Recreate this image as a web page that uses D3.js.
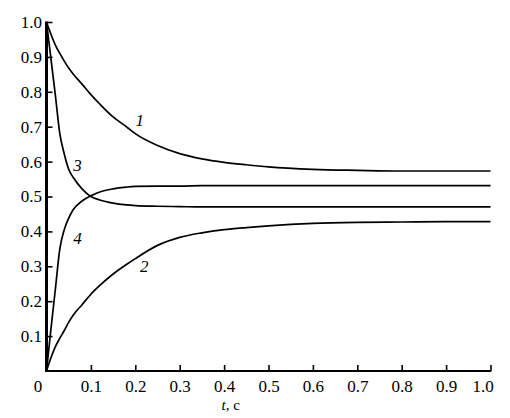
<!DOCTYPE html>
<html>
<head>
<meta charset="utf-8">
<script src="https://cdn.jsdelivr.net/npm/d3@7"></script>
<style>
  html, body { margin: 0; padding: 0; background: #fff; }
  svg { display: block; }
  svg text { font-family: 'Liberation Serif', 'Times New Roman', Times, 'DejaVu Serif', serif !important; fill: #000; }
</style>
</head>
<body>
<div id="chart"></div>
<script>
// ---- data ----
const tValues = [0, 0.01, 0.02, 0.03, 0.04, 0.05, 0.06, 0.08, 0.10, 0.12, 0.15, 0.18, 0.20, 0.25, 0.30, 0.35, 0.40, 0.45, 0.50, 0.60, 0.70, 0.80, 0.90, 1.00];
const curve1 = [1.0, 0.965, 0.934, 0.910, 0.888, 0.868, 0.851, 0.822, 0.792, 0.765, 0.728, 0.700, 0.680, 0.646, 0.623, 0.608, 0.598, 0.591, 0.585, 0.578, 0.575, 0.573, 0.573, 0.573];
const curve2 = [0, 0.038, 0.070, 0.094, 0.116, 0.140, 0.160, 0.190, 0.220, 0.245, 0.278, 0.305, 0.322, 0.360, 0.383, 0.396, 0.405, 0.411, 0.416, 0.423, 0.426, 0.427, 0.428, 0.428];
const curve3 = [1.0, 0.895, 0.790, 0.680, 0.622, 0.578, 0.555, 0.522, 0.500, 0.490, 0.481, 0.476, 0.474, 0.472, 0.471, 0.470, 0.470, 0.470, 0.470, 0.470, 0.470, 0.470, 0.470, 0.470];
const curve4 = [0, 0.120, 0.235, 0.350, 0.405, 0.438, 0.462, 0.487, 0.502, 0.513, 0.522, 0.527, 0.529, 0.530, 0.530, 0.531, 0.531, 0.531, 0.531, 0.531, 0.531, 0.531, 0.531, 0.531];
const seriesNames = ["1", "2", "3", "4"];
const seriesLabelAt = [[0.21, 0.72], [0.22, 0.30], [0.07, 0.59], [0.07, 0.38]]; // [t, value] where each number label sits
const xTicks = [0, 0.1, 0.2, 0.3, 0.4, 0.5, 0.6, 0.7, 0.8, 0.9, 1.0];
const xTickLabels = ["0", "0.1", "0.2", "0.3", "0.4", "0.5", "0.6", "0.7", "0.8", "0.9", "1.0"];
const yTicks = [0.1, 0.2, 0.3, 0.4, 0.5, 0.6, 0.7, 0.8, 0.9, 1.0];
const yTickLabels = ["0.1", "0.2", "0.3", "0.4", "0.5", "0.6", "0.7", "0.8", "0.9", "1.0"];

// ---- layout ----
const W = 510, H = 418;
const FONT = "'Liberation Serif', 'Times New Roman', Times, 'DejaVu Serif', serif";
const svg = d3.select("#chart").append("svg").attr("width", W).attr("height", H)
  .attr("font-family", FONT);

const x = d3.scaleLinear().domain([0, 1]).range([46.5, 490.5]);
const y = d3.scaleLinear().domain([0, 1]).range([371, 22]);

// axes
const xAxis = d3.axisBottom(x)
  .tickValues(xTicks)
  .tickFormat((d, i) => xTickLabels[i])
  .tickSizeInner(-6).tickSizeOuter(0).tickPadding(9);
const yAxis = d3.axisLeft(y)
  .tickValues(yTicks)
  .tickFormat((d, i) => yTickLabels[i])
  .tickSizeInner(-6).tickSizeOuter(0).tickPadding(4.5);

const gx = svg.append("g").attr("transform", `translate(0,${y(0)})`).call(xAxis);
const gy = svg.append("g").attr("transform", `translate(${x(0)},0)`).call(yAxis);

[gx, gy].forEach(g => {
  g.attr("font-family", FONT).attr("font-size", 17);
  g.select(".domain").remove();
  g.selectAll(".tick line").attr("stroke", "#000").attr("stroke-width", 1.6);
  g.selectAll(".tick text").attr("font-size", 17).attr("fill", "#000")
    .attr("font-family", FONT);
});
// end labels nudged inward like the original
gx.selectAll(".tick text").attr("dx", (d) => d === 0 ? -9 : (d === 1 ? -8 : 0));

// axis lines
svg.append("line").attr("x1", x(0)).attr("x2", x(0)).attr("y1", y(1) - 0.5).attr("y2", y(0))
  .attr("stroke", "#000").attr("stroke-width", 3);
svg.append("line").attr("x1", x(0) - 1.5).attr("x2", x(1) + 0.8).attr("y1", y(0)).attr("y2", y(0))
  .attr("stroke", "#000").attr("stroke-width", 2.2);

// curves
const allSeries = [curve1, curve2, curve3, curve4];
const line = d3.line()
  .x((d, i) => x(tValues[i]))
  .y(d => y(d))
  .curve(d3.curveMonotoneX);

svg.append("g").selectAll("path").data(allSeries).join("path")
  .attr("d", d => line(d))
  .attr("fill", "none")
  .attr("stroke", "#000")
  .attr("stroke-width", 1.7);

// curve number labels
svg.append("g").selectAll("text").data(seriesNames).join("text")
  .attr("x", (d, i) => x(seriesLabelAt[i][0]))
  .attr("y", (d, i) => y(seriesLabelAt[i][1]))
  .attr("text-anchor", "middle")
  .attr("dy", "0.35em")
  .attr("font-size", 17)
  .attr("font-style", "italic")
  .text(d => d);

// x axis title
const title = svg.append("text")
  .attr("x", x(0.415)).attr("y", 410)
  .attr("text-anchor", "middle")
  .attr("font-size", 15);
title.append("tspan").attr("font-style", "italic").text("t");
title.append("tspan").text(", с");
</script>
</body>
</html>
